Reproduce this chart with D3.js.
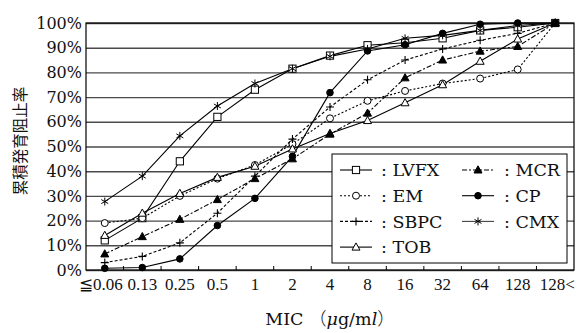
<!DOCTYPE html>
<html><head><meta charset="utf-8">
<script src="https://cdn.jsdelivr.net/npm/d3@7"></script>
<style>
html,body{margin:0;padding:0;background:#fff;}
svg{display:block;}
</style></head>
<body>
<svg id="chart" width="583" height="333"></svg>
<script>
const categories = ["≦0.06","0.13","0.25","0.5","1","2","4","8","16","32","64","128","128<"];
const yTicks = [0,10,20,30,40,50,60,70,80,90,100];
const seriesNames = ["LVFX","EM","SBPC","TOB","MCR","CP","CMX"];
const LVFX = [12, 21, 44, 62, 73, 81.5, 86.8, 91, 92, 93.8, 97, 98.3, 100];
const EM   = [19, 21, 30, 37, 42.5, 51, 61.4, 68.5, 72.5, 75.5, 77.5, 81.2, 100];
const SBPC = [3, 5.5, 11, 23, 38, 53, 66, 77, 85, 89.5, 93, 95.8, 100];
const TOB  = [14, 23, 31, 37.5, 42, 49, 55.3, 60.5, 67.7, 75, 84.5, 93.5, 100];
const MCR  = [6.5, 13.5, 20.5, 28.5, 37, 45, 55, 63.5, 77.8, 85, 88.6, 90.5, 100];
const CP   = [0.7, 1, 4.5, 18, 29, 46, 71.8, 88.7, 91.2, 95.8, 99.5, 100, 100];
const CMX  = [27.7, 38, 54.3, 66.4, 75.5, 81.5, 86.5, 89.5, 93.8, 95, 97, 99, 100];
const seriesValues = {LVFX, EM, SBPC, TOB, MCR, CP, CMX};

const styles = {
  LVFX: {dash:null, marker:"square"},
  EM:   {dash:"2,2", marker:"circleOpen"},
  SBPC: {dash:"3,2", marker:"plus"},
  TOB:  {dash:null, marker:"triOpen"},
  MCR:  {dash:"5,2,2,2", marker:"triFilled"},
  CP:   {dash:null, marker:"circleFilled"},
  CMX:  {dash:null, marker:"asterisk"}
};

const svg = d3.select("#chart");
const L=86, R=574, T=23, B=270;
const x = d3.scaleBand().domain(categories).range([L,R]);
const cx = c => x(c) + x.bandwidth()/2;
const y = d3.scaleLinear().domain([0,100]).range([B,T]);
const serif = "'DejaVu Serif', 'Liberation Serif', serif";
const times = "'Liberation Serif', serif";

// gridlines
svg.append("g").attr("transform",`translate(${L},0)`)
  .call(d3.axisLeft(y).tickValues(yTicks).tickSize(-(R-L)).tickFormat(""))
  .call(g=>g.select(".domain").remove())
  .call(g=>g.selectAll("line").attr("stroke","#4a4a4a").attr("stroke-width",1.4));

// y labels
svg.append("g").attr("transform",`translate(${L-4},0)`)
  .call(d3.axisLeft(y).tickValues(yTicks).tickSize(0).tickPadding(0).tickFormat(d=>d+"%"))
  .call(g=>g.select(".domain").remove())
  .call(g=>g.selectAll("text").attr("font-family",serif).attr("font-size",16).attr("fill","#111"));

// x labels
svg.append("g").attr("transform",`translate(0,${B})`)
  .call(d3.axisBottom(x).tickSize(0).tickPadding(8))
  .call(g=>g.select(".domain").remove())
  .call(g=>g.selectAll("text").attr("font-family",times).attr("font-size",17).attr("fill","#111")
    .attr("dx",(d,i)=> i===0 ? -4 : (i===categories.length-1 ? 2 : 0)));

// boundary ticks (inside)
svg.append("g").selectAll("line").data(categories.slice(1)).join("line")
  .attr("x1",d=>x(d)).attr("x2",d=>x(d)).attr("y1",B).attr("y2",B-4)
  .attr("stroke","#000").attr("stroke-width",1);

// border
svg.append("rect").attr("x",L).attr("y",T).attr("width",R-L).attr("height",B-T)
  .attr("fill","none").attr("stroke","#000").attr("stroke-width",1.2);

// lines
const line = d3.line().x((d,i)=>cx(categories[i])).y(d=>y(d));
seriesNames.forEach(n=>{
  svg.append("path").datum(seriesValues[n]).attr("d",line)
    .attr("fill","none").attr("stroke","#000").attr("stroke-width",1.1)
    .attr("stroke-dasharray",styles[n].dash);
});

function drawMarker(g, type, px, py){
  const s=3.6;
  if(type==="square"){
    g.append("rect").attr("x",px-s).attr("y",py-s).attr("width",2*s).attr("height",2*s)
      .attr("fill","#fff").attr("stroke","#000").attr("stroke-width",1);
  } else if(type==="circleOpen"){
    g.append("circle").attr("cx",px).attr("cy",py).attr("r",3.5)
      .attr("fill","#fff").attr("stroke","#000").attr("stroke-width",1);
  } else if(type==="circleFilled"){
    g.append("circle").attr("cx",px).attr("cy",py).attr("r",3.3)
      .attr("fill","#000").attr("stroke","#000").attr("stroke-width",1);
  } else if(type==="plus"){
    g.append("path").attr("d",`M${px-4},${py}H${px+4}M${px},${py-4}V${py+4}`)
      .attr("stroke","#000").attr("stroke-width",1.1);
  } else if(type==="triOpen" || type==="triFilled"){
    g.append("path").attr("d",`M${px},${py-4.2}L${px+4},${py+3}L${px-4},${py+3}Z`)
      .attr("fill", type==="triOpen"?"#fff":"#000").attr("stroke","#000").attr("stroke-width",1);
  } else if(type==="asterisk"){
    const r=4;
    let d="";
    [90,30,-30].forEach(a=>{const rad=a*Math.PI/180;
      d+=`M${px-r*Math.cos(rad)},${py-r*Math.sin(rad)}L${px+r*Math.cos(rad)},${py+r*Math.sin(rad)}`;});
    g.append("path").attr("d",d).attr("stroke","#000").attr("stroke-width",1);
  }
}
const mg = svg.append("g");
seriesNames.forEach(n=>{
  seriesValues[n].forEach((v,i)=>drawMarker(mg, styles[n].marker, cx(categories[i]), y(v)));
});

// legend
const lg = svg.append("g");
lg.append("rect").attr("x",332).attr("y",154).attr("width",235).attr("height",109)
  .attr("fill","#fff").attr("stroke","#000").attr("stroke-width",1);
const legendCols = [
  {names:["LVFX","EM","SBPC","TOB"], x1:340, x2:372, tx:381},
  {names:["MCR","CP","CMX"], x1:462, x2:494, tx:504}
];
legendCols.forEach(col=>{
  col.names.forEach((n,i)=>{
    const ly = 170 + i*25.7;
    lg.append("line").attr("x1",col.x1).attr("x2",col.x2).attr("y1",ly).attr("y2",ly)
      .attr("stroke",n==="CMX"?"#444":"#000").attr("stroke-width",1.1).attr("stroke-dasharray",styles[n].dash);
    drawMarker(lg, styles[n].marker, (col.x1+col.x2)/2, ly);
    lg.append("text").attr("x",col.tx).attr("y",ly).attr("dy","0.36em")
      .attr("font-family",serif).attr("font-size",17.5).attr("fill","#111")
      .text(": "+n);
  });
});

// axis titles
const xt = svg.append("text").attr("x",(L+R)/2).attr("y",325).attr("text-anchor","middle")
  .attr("font-family",serif).attr("font-size",17.5).attr("fill","#111");
xt.append("tspan").text("MIC ");
xt.append("tspan").attr("font-family","'Noto Sans CJK JP', sans-serif").attr("font-weight",300).text("（");
xt.append("tspan").attr("font-style","italic").text("μ");
xt.append("tspan").text("g/m");
xt.append("tspan").attr("font-style","italic").text("l");
xt.append("tspan").attr("font-family","'Noto Sans CJK JP', sans-serif").attr("font-weight",300).text("）");

svg.append("text").attr("transform","translate(26,141) rotate(-90)").attr("text-anchor","middle")
  .attr("font-family","'Noto Sans CJK JP', sans-serif").attr("font-size",15.5).attr("fill","#111")
  .text("累積発育阻止率");
</script>
</body></html>
